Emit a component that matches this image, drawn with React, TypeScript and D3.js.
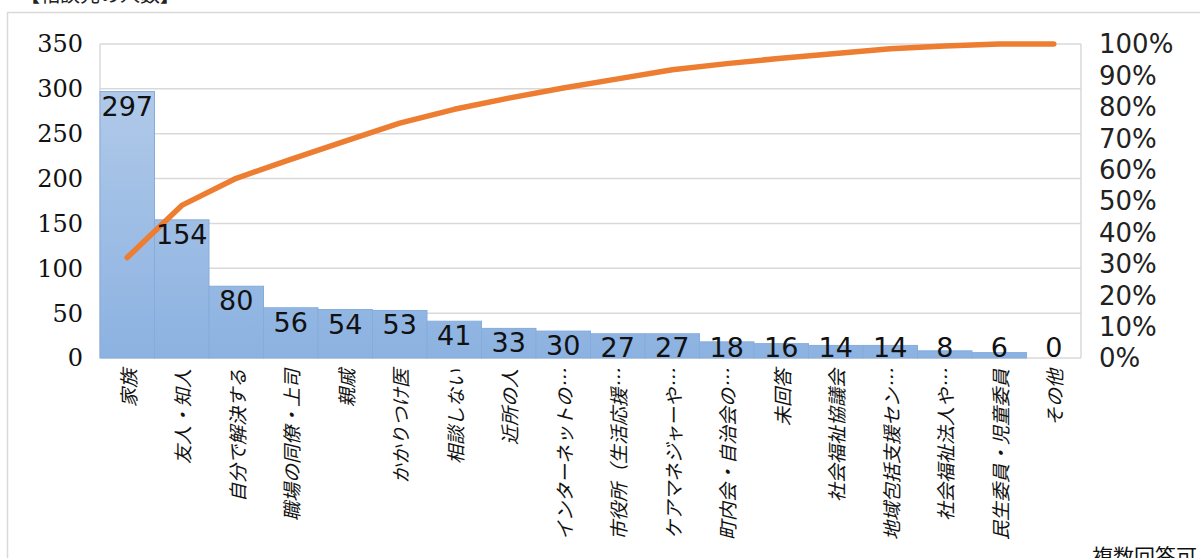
import React from "react";
import * as d3 from "d3";

const categories = [
  "家族",
  "友人・知人",
  "自分で解決する",
  "職場の同僚・上司",
  "親戚",
  "かかりつけ医",
  "相談しない",
  "近所の人",
  "インターネットの…",
  "市役所（生活応援…",
  "ケアマネジャーや…",
  "町内会・自治会の…",
  "未回答",
  "社会福祉協議会",
  "地域包括支援セン…",
  "社会福祉法人や…",
  "民生委員・児童委員",
  "その他",
];
const counts = [297, 154, 80, 56, 54, 53, 41, 33, 30, 27, 27, 18, 16, 14, 14, 8, 6, 0];
const leftTicks = [0, 50, 100, 150, 200, 250, 300, 350];
const rightTicks = [0, 0.1, 0.2, 0.3, 0.4, 0.5, 0.6, 0.7, 0.8, 0.9, 1.0];
const titleText = "【相談先の人数】";
const noteText = "複数回答可";

const W = 1200;
const H = 558;
const plot = { left: 100, right: 1081, top: 44, bottom: 358 };

export default function App() {
  const x = d3
    .scaleBand<string>()
    .domain(categories)
    .range([plot.left, plot.right])
    .paddingInner(0)
    .paddingOuter(0);
  const y = d3.scaleLinear().domain([0, 350]).range([plot.bottom, plot.top]);
  const yR = d3.scaleLinear().domain([0, 1]).range([plot.bottom, plot.top]);

  const total = d3.sum(counts);
  const cum = Array.from(d3.cumsum(counts)).map((c) => c / total);

  const line = d3
    .line<number>()
    .x((_, i) => (x(categories[i]) as number) + x.bandwidth() / 2)
    .y((d) => yR(d));

  const bw = x.bandwidth();

  return (
    <svg
      width={W}
      height={H}
      style={{ position: "absolute", left: 0, top: 0, background: "#fff" }}
    >
      <defs>
        <linearGradient
          id="barGrad"
          gradientUnits="userSpaceOnUse"
          x1="0"
          y1={plot.top}
          x2="0"
          y2={plot.bottom}
        >
          <stop offset="0" stopColor="#b6cdea" />
          <stop offset="1" stopColor="#8cb2e1" />
        </linearGradient>
      </defs>

      {/* title (cut off at top) */}
      <text
        x={20}
        y={2}
        fontFamily="'Noto Sans CJK JP', sans-serif"
        fontSize={20}
        fill="#222"
      >
        {titleText}
      </text>

      {/* outer border */}
      <rect
        x={7.5}
        y={12.5}
        width={1300}
        height={700}
        fill="none"
        stroke="#d9d9d9"
        strokeWidth={1.5}
      />

      {/* gridlines */}
      {leftTicks.map((t) => (
        <line
          key={"g" + t}
          x1={plot.left}
          x2={plot.right}
          y1={y(t)}
          y2={y(t)}
          stroke="#d9d9d9"
          strokeWidth={1.5}
        />
      ))}
      <line
        x1={plot.left}
        x2={plot.left}
        y1={plot.top}
        y2={plot.bottom}
        stroke="#d9d9d9"
        strokeWidth={1.5}
      />
      <line
        x1={plot.right}
        x2={plot.right}
        y1={plot.top}
        y2={plot.bottom}
        stroke="#d9d9d9"
        strokeWidth={1.5}
      />

      {/* bars */}
      {counts.map((v, i) => (
        <rect
          key={"b" + i}
          x={x(categories[i]) as number}
          y={y(v)}
          width={bw}
          height={plot.bottom - y(v)}
          fill="url(#barGrad)"
          stroke="#86acdb"
          strokeWidth={1}
        />
      ))}

      {/* left axis labels */}
      {leftTicks.map((t) => (
        <text
          key={"l" + t}
          x={83}
          y={y(t)}
          dy="0.35em"
          textAnchor="end"
          fontFamily="'DejaVu Serif', 'Liberation Serif', 'Times New Roman', serif"
          fontSize={24}
          fill="#111"
        >
          {t}
        </text>
      ))}

      {/* right axis labels */}
      {rightTicks.map((t) => (
        <text
          key={"r" + t}
          x={1099}
          y={yR(t)}
          dy="0.36em"
          textAnchor="start"
          fontFamily="'DejaVu Sans', sans-serif"
          fontSize={26}
          fill="#222"
        >
          {Math.round(t * 100) + "%"}
        </text>
      ))}

      {/* cumulative line */}
      <path
        d={line(cum) || ""}
        fill="none"
        stroke="#ed7d31"
        strokeWidth={5.5}
        strokeLinejoin="round"
        strokeLinecap="round"
      />

      {/* data labels */}
      {counts.map((v, i) => (
        <text
          key={"d" + i}
          x={(x(categories[i]) as number) + bw / 2}
          y={Math.min(y(v) + 24, plot.bottom - 1.5)}
          textAnchor="middle"
          fontFamily="'DejaVu Sans', sans-serif"
          fontSize={27}
          fill="#111"
        >
          {v}
        </text>
      ))}

      {/* x labels */}
      {categories.map((c) => {
        const cx = (x(c) as number) + bw / 2;
        const cy = 369;
        return (
          <text
            key={"x" + c}
            transform={`translate(${cx},${cy}) rotate(-90)`}
            textAnchor="end"
            dominantBaseline="central"
            fontFamily="'Noto Sans CJK JP', sans-serif"
            fontStyle="italic"
            fontSize={19}
            fill="#111"
          >
            {c}
          </text>
        );
      })}

      {/* note */}
      <text
        x={1197}
        y={564}
        textAnchor="end"
        fontFamily="'Noto Sans CJK JP', sans-serif"
        fontSize={21}
        fill="#111"
      >
        {noteText}
      </text>
    </svg>
  );
}
